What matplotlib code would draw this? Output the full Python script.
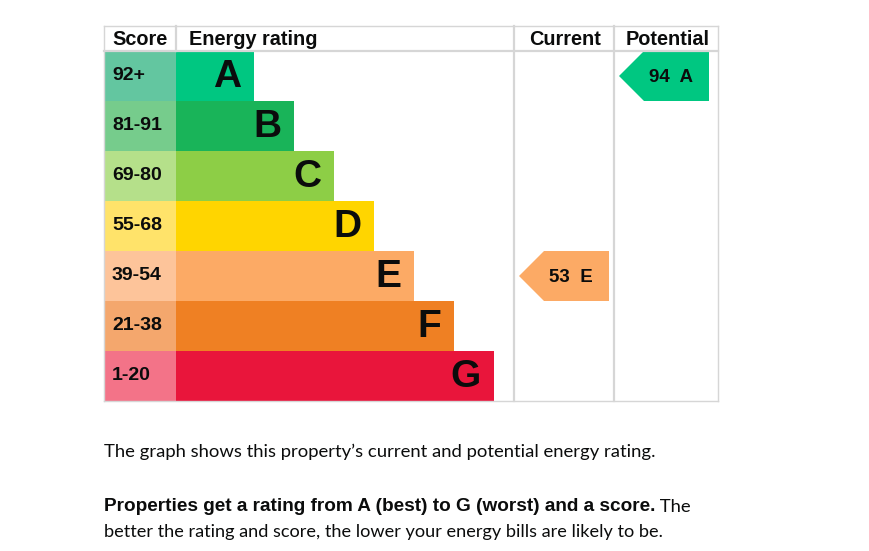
import matplotlib
matplotlib.use("Agg")
import matplotlib.pyplot as plt
from matplotlib.patches import Rectangle, Polygon

# chart data
bands = ["A", "B", "C", "D", "E", "F", "G"]
score_ranges = ["92+", "81-91", "69-80", "55-68", "39-54", "21-38", "1-20"]
bar_colors = ["#00c781", "#19b459", "#8dce46", "#ffd500", "#fcaa65", "#ef8023", "#e9153b"]
score_colors = ["#63c6a0", "#76cc8c", "#b5e08a", "#ffe36a", "#fdc49a", "#f4a76d", "#f37388"]
current_score, current_band = 53, "E"
potential_score, potential_band = 94, "A"

# layout (pixels)
W, H = 869, 551
left, right = 104, 718
top, header_h, row_h = 26, 25, 50
score_w = 72
bar_x0 = left + score_w
bar_w0, bar_step = 78, 40
cur_x0, pot_x0 = 514, 614
grid = "#d6d6d6"
ink = "#0b0c0c"
arial = ["Liberation Sans", "DejaVu Sans"]

fig = plt.figure(figsize=(W / 100, H / 100), dpi=100)
ax = fig.add_axes([0, 0, 1, 1])
ax.set_xlim(0, W)
ax.set_ylim(H, 0)
ax.axis("off")

body_top = top + header_h
body_bot = body_top + row_h * len(bands)

# table frame
ax.plot([left, right], [top, top], color=grid, lw=1)
ax.plot([left, right], [body_top, body_top], color=grid, lw=1.6)
ax.plot([left, right], [body_bot, body_bot], color=grid, lw=1)
ax.plot([left, left], [top, body_bot], color=grid, lw=1)
ax.plot([right, right], [top, body_bot], color=grid, lw=1)
ax.plot([bar_x0, bar_x0], [top, body_top], color=grid, lw=1.6)
for x in (cur_x0, pot_x0):
    ax.plot([x, x], [top, body_bot], color=grid, lw=1.6)

hdr_font = dict(family=arial, weight="bold", fontsize=14.3, va="center", color=ink)
hy = top + header_h / 2 + 1
ax.text(left + 8, hy, "Score", **hdr_font)
ax.text(bar_x0 + 13, hy, "Energy rating", **hdr_font)
ax.text((cur_x0 + pot_x0) / 2 + 1, hy, "Current", ha="center", **hdr_font)
ax.text((pot_x0 + right) / 2 + 2, hy, "Potential", ha="center", **hdr_font)

for i, (band, rng) in enumerate(zip(bands, score_ranges)):
    y0 = body_top + i * row_h
    bw = bar_w0 + bar_step * i
    ax.add_patch(Rectangle((left, y0), score_w, row_h, color=score_colors[i], lw=0))
    ax.add_patch(Rectangle((bar_x0, y0), bw, row_h, color=bar_colors[i], lw=0))
    ax.text(left + 8, y0 + row_h / 2, rng, family=arial, weight="bold",
            fontsize=14, va="center", color=ink)
    ax.text(bar_x0 + bw - 13, y0 + row_h / 2 + 1, band, family=arial,
            weight="bold", fontsize=28, va="center", ha="right", color=ink)


def arrow(x0, band, score):
    i = bands.index(band)
    y0 = body_top + i * row_h
    y1 = y0 + row_h
    xr = x0 + 95
    pts = [(x0 + 5, (y0 + y1) / 2), (x0 + 30, y0), (xr, y0), (xr, y1), (x0 + 30, y1)]
    ax.add_patch(Polygon(pts, closed=True, color=bar_colors[i], lw=0))
    ax.text(x0 + 57, (y0 + y1) / 2 + 1, f"{score}  {band}", family=arial,
            weight="bold", fontsize=13.5, va="center", ha="center", color=ink)


arrow(cur_x0, current_band, current_score)
arrow(pot_x0, potential_band, potential_score)

# text below
ax.text(left, 452, "The graph shows this property\u2019s current and potential energy rating.",
        family="Lato", fontsize=13.3, va="center", color=ink)
bold = ax.text(left, 511, "Properties get a rating from A (best) to G (worst) and a score.",
               family=arial, weight="bold", fontsize=13.7, va="baseline", color=ink)
ax.annotate(" The", xy=(1, 0), xycoords=bold, va="bottom", family="Lato",
            fontsize=13.3, color=ink)
ax.text(left, 532, "better the rating and score, the lower your energy bills are likely to be.",
        family="Lato", fontsize=13.1, va="center", color=ink)

fig.savefig("out.png", dpi=100, facecolor="white")
